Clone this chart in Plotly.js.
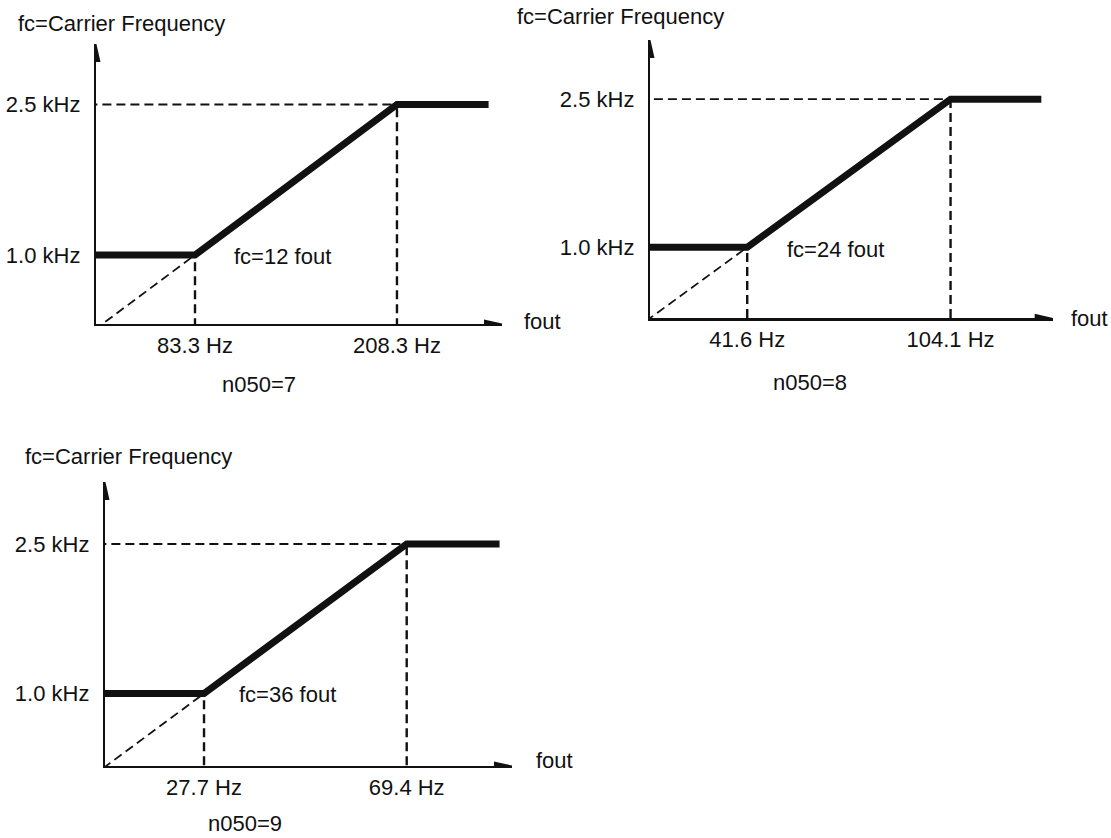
<!DOCTYPE html>
<html>
<head>
<meta charset="utf-8">
<script src="https://cdn.plot.ly/plotly-3.0.1.min.js"></script>
<style>html,body{margin:0;padding:0;background:#fff;}</style>
</head>
<body>
<div id="chart" style="width:1111px;height:838px;"></div>
<script>
// ---- data ----
const settingLabels = ['n050=7', 'n050=8', 'n050=9'];
const slopeLabels = ['fc=12 fout', 'fc=24 fout', 'fc=36 fout'];
const carrierKHz = [1.0, 2.5];
const carrierLabels = ['1.0 kHz', '2.5 kHz'];
const foutLowHz = [83.3, 41.6, 27.7];
const foutHighHz = [208.3, 104.1, 69.4];
const foutEndHz = [265, 132, 88.5];
const foutLowLabels = ['83.3 Hz', '41.6 Hz', '27.7 Hz'];
const foutHighLabels = ['208.3 Hz', '104.1 Hz', '69.4 Hz'];
const yAxisLabel = 'fc=Carrier Frequency';
const xAxisLabel = 'fout';

// ---- geometry / style (pixels) ----
const W = 1111, H = 838;
const geom = [
  {left: 96,  right: 502,   bottom: 324,   top: 44, xr: [22.03, 273.3], yr: [0.312, 3.103],
   titleDx: -80,  titleDy: 20, noteDx: 37, noteDy: -2, foutDx: 20, foutDy: 3, setX: 259, setY: 385},
  {left: 650, right: 1052.7, bottom: 318.3, top: 40, xr: [11.71, 135.5], yr: [0.280, 3.10],
   titleDx: -135, titleDy: 23, noteDx: 38, noteDy: -2, foutDx: 16, foutDy: 0, setX: 810, setY: 382},
  {left: 105, right: 512,   bottom: 766,   top: 482, xr: [7.33, 91.06], yr: [0.273, 3.122],
   titleDx: -82,  titleDy: 25, noteDx: 33, noteDy: -1, foutDx: 22, foutDy: 6, setX: 245, setY: 823}
];
const FONT = {family: 'Liberation Sans, Arial, Helvetica, sans-serif', size: 22, color: '#111'};
const INK = '#111';

const traces = [];
const layout = {
  width: W, height: H,
  margin: {l: 0, r: 0, t: 0, b: 0},
  paper_bgcolor: '#fff', plot_bgcolor: 'rgba(0,0,0,0)',
  showlegend: false,
  font: FONT,
  annotations: [],
  shapes: []
};

geom.forEach((g, i) => {
  const n = i === 0 ? '' : String(i + 1);
  const xa = 'x' + n, ya = 'y' + n;
  const lo = foutLowHz[i], hi = foutHighHz[i];

  const dashStyle = {color: INK, width: 1.8, dash: '9px,5px'};
  const vDashStyle = {color: INK, width: 2.4, dash: '9px,5px'};
  // dashed helpers
  traces.push({x: [0, lo], y: [0, carrierKHz[0]], xaxis: xa, yaxis: ya, mode: 'lines', line: dashStyle, hoverinfo: 'skip'});
  traces.push({x: [0, hi], y: [carrierKHz[1], carrierKHz[1]], xaxis: xa, yaxis: ya, mode: 'lines', line: dashStyle, hoverinfo: 'skip'});
  traces.push({x: [lo, lo], y: [0, carrierKHz[0]], xaxis: xa, yaxis: ya, mode: 'lines', line: vDashStyle, hoverinfo: 'skip'});
  traces.push({x: [hi, hi], y: [0, carrierKHz[1]], xaxis: xa, yaxis: ya, mode: 'lines', line: vDashStyle, hoverinfo: 'skip'});
  // carrier frequency characteristic
  traces.push({
    x: [0, lo, hi, foutEndHz[i]],
    y: [carrierKHz[0], carrierKHz[0], carrierKHz[1], carrierKHz[1]],
    xaxis: xa, yaxis: ya, mode: 'lines',
    line: {color: INK, width: 7}, name: settingLabels[i]
  });

  layout['xaxis' + n] = {
    domain: [g.left / W, g.right / W], anchor: ya, range: g.xr,
    showgrid: false, zeroline: false, showline: true, linecolor: INK, linewidth: 2.2,
    ticks: '', tickvals: [lo, hi], ticktext: [foutLowLabels[i], foutHighLabels[i]],
    tickfont: FONT, ticklabelstandoff: 0, fixedrange: true
  };
  layout['yaxis' + n] = {
    domain: [1 - g.bottom / H, 1 - g.top / H], anchor: xa, range: g.yr,
    showgrid: false, zeroline: false, showline: true, linecolor: INK, linewidth: 2.2,
    ticks: '', tickvals: carrierKHz, ticktext: carrierLabels,
    tickfont: FONT, ticklabelstandoff: 9, fixedrange: true
  };

  // arrowheads at the axis ends
  layout.shapes.push({type: 'path', xref: xa, yref: ya, xsizemode: 'pixel', ysizemode: 'pixel',
    xanchor: g.xr[1], yanchor: g.yr[0], path: 'M2,0L-18,4.5L-18,-4.5Z',
    fillcolor: INK, line: {width: 0}});
  layout.shapes.push({type: 'path', xref: xa, yref: ya, xsizemode: 'pixel', ysizemode: 'pixel',
    xanchor: g.xr[0], yanchor: g.yr[1], path: 'M0,2L-4.5,-18L4.5,-18Z',
    fillcolor: INK, line: {width: 0}});

  // axis captions
  layout.annotations.push({text: yAxisLabel, xref: xa + ' domain', yref: ya + ' domain',
    x: 0, y: 1, xanchor: 'left', yanchor: 'middle', xshift: g.titleDx, yshift: g.titleDy,
    showarrow: false, font: FONT});
  layout.annotations.push({text: xAxisLabel, xref: xa + ' domain', yref: ya + ' domain',
    x: 1, y: 0, xanchor: 'left', yanchor: 'middle', xshift: g.foutDx, yshift: g.foutDy,
    showarrow: false, font: FONT});
  // slope note
  layout.annotations.push({text: slopeLabels[i], xref: xa, yref: ya,
    x: lo, y: carrierKHz[0], xanchor: 'left', yanchor: 'middle', xshift: g.noteDx, yshift: g.noteDy,
    showarrow: false, font: FONT});
  // setting caption
  layout.annotations.push({text: settingLabels[i], xref: 'paper', yref: 'paper',
    x: g.setX / W, y: 1 - g.setY / H, xanchor: 'center', yanchor: 'middle',
    showarrow: false, font: FONT});
});

Plotly.newPlot('chart', traces, layout, {displayModeBar: false, staticPlot: true});
</script>
</body>
</html>
